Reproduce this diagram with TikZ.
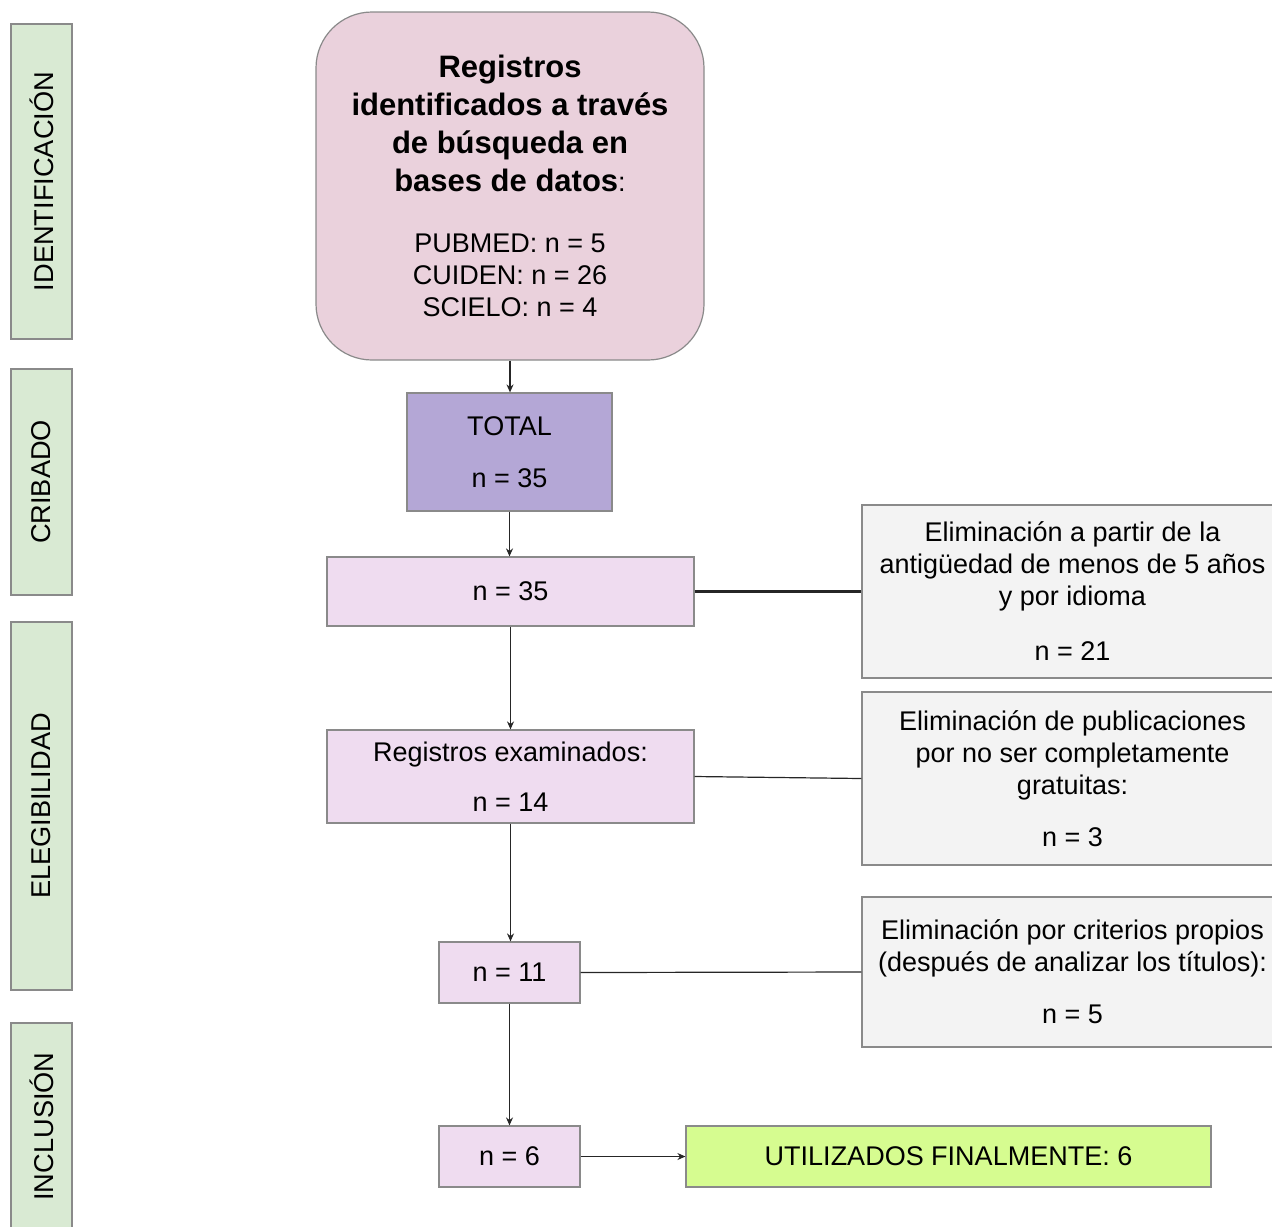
\documentclass[tikz,border=0pt]{standalone}
\usepackage{fontspec}
\setmainfont{Liberation Sans}
\usetikzlibrary{arrows.meta}
\definecolor{pinkbox}{HTML}{EAD1DC}
\definecolor{totalbox}{HTML}{B4A7D6}
\definecolor{lilac}{HTML}{EFDCF0}
\definecolor{greybox}{HTML}{F3F3F3}
\definecolor{labelgreen}{HTML}{D9EAD3}
\definecolor{finalgreen}{HTML}{D6FC90}
\definecolor{edge}{HTML}{8A8A8A}
\tikzset{
  basebox/.style={draw=edge, line width=0.6pt, inner sep=0pt, align=center,
    font=\fontsize{13.5}{16}\selectfont, text=black},
  stagelabel/.style={basebox, fill=labelgreen, rotate=90, minimum height=30.5pt, font=\fontsize{13.6}{16}\selectfont},
  lilacbox/.style={basebox, fill=lilac},
  greyrbox/.style={basebox, fill=greybox, minimum width=210.5pt},
  arr/.style={draw=black!85, line width=0.6pt, -{Stealth[length=4pt,width=3.5pt]}},
  link/.style={draw=black!85, line width=0.6pt},
}
\begin{document}
\begin{tikzpicture}[x=0.5pt,y=-0.5pt]
\useasboundingbox (0,0) rectangle (1272,1226);
\clip (0,0) rectangle (1272,1226);

% stage labels
\node[stagelabel, minimum width=157.5pt] (lid) at (41.5,181.5) {IDENTIFICACIÓN};
\node[stagelabel, minimum width=113pt] (lcr) at (41.5,482) {CRIBADO};
\node[stagelabel, minimum width=184pt] (lel) at (41.5,806) {ELEGIBILIDAD};
\node[stagelabel, minimum width=103.5pt] (lin) at (41.5,1126.5) {INCLUSIÓN};

% main column
\node[basebox, fill=pinkbox, rounded corners=28pt, minimum width=194pt, minimum height=174pt] (top) at (510,186)
 {{\bfseries\fontsize{15.5}{19}\selectfont Registros}\\[3pt]
  {\bfseries\fontsize{15.5}{19}\selectfont identificados a través}\\[3pt]
  {\bfseries\fontsize{15.5}{19}\selectfont de búsqueda en}\\[3pt]
  {\bfseries\fontsize{15.5}{19}\selectfont bases de datos}:\\[14.5pt]
  PUBMED: n = 5\\
  CUIDEN: n = 26\\
  SCIELO: n = 4};
\node[basebox, fill=totalbox, minimum width=102.5pt, minimum height=59pt] (total) at (509.5,452)
 {TOTAL\\[10pt] n = 35};
\node[lilacbox, minimum width=183.5pt, minimum height=34.5pt] (n35) at (510.5,591.5) {n = 35};
\node[lilacbox, minimum width=183.5pt, minimum height=46.5pt] (reg) at (510.5,776.5)
 {Registros examinados:\\[9pt] n = 14};
\node[lilacbox, minimum width=70.5pt, minimum height=30.5pt] (n11) at (509.5,972.5) {n = 11};
\node[lilacbox, minimum width=70.5pt, minimum height=30.5pt] (n6) at (509.5,1156.5) {n = 6};

% right column
\node[greyrbox, minimum height=86.5pt] (ex1) at (1072.5,591.5)
 {Eliminación a partir de la\\ antigüedad de menos de 5 años\\ y por idioma\\[11.5pt] n = 21};
\node[greyrbox, minimum height=86.5pt] (ex2) at (1072.5,778.5)
 {Eliminación de publicaciones\\ por no ser completamente\\ gratuitas:\\[10pt] n = 3};
\node[greyrbox, minimum height=75pt] (ex3) at (1072.5,972)
 {Eliminación por criterios propios\\ (después de analizar los títulos):\\[10pt] n = 5};
\node[basebox, fill=finalgreen, minimum width=262.5pt, minimum height=30.5pt] (fin) at (948.5,1156.5)
 {UTILIZADOS FINALMENTE: 6};

% connectors
\draw[arr] (top.south) -- (top.south |- total.north);
\draw[arr] (total.south) -- (total.south |- n35.north);
\draw[arr] (n35.south) -- (n35.south |- reg.north);
\draw[arr] (reg.south) -- (reg.south |- n11.north);
\draw[arr] (n11.south) -- (n11.south |- n6.north);
\draw[link, line width=1.3pt] (n35.east) -- (ex1.west);
\draw[link] (reg.east) -- (ex2.west);
\draw[link] (n11.east) -- (ex3.west);
\draw[arr] (n6.east) -- (fin.west);
\end{tikzpicture}
\end{document}
